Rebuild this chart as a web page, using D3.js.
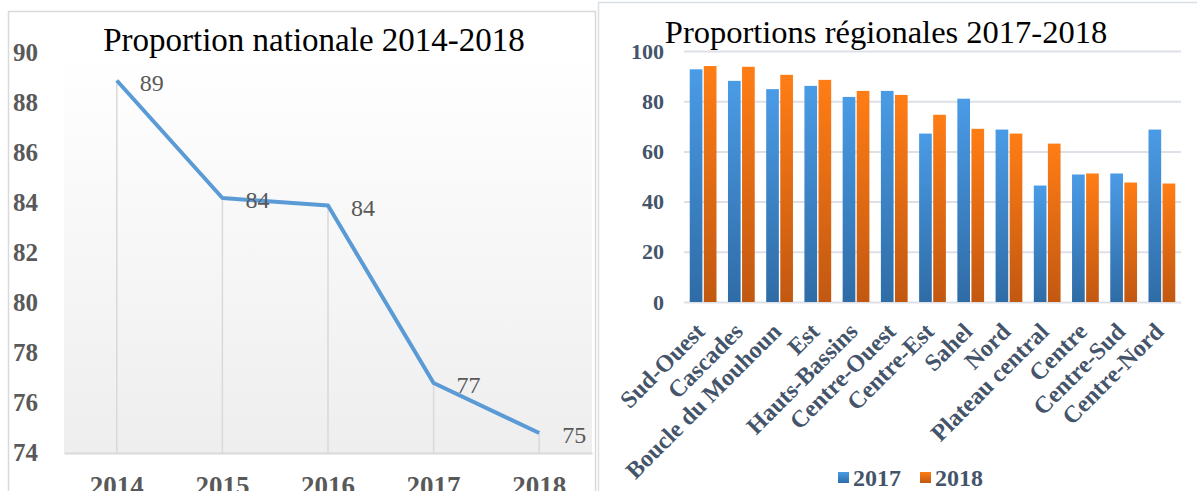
<!DOCTYPE html>
<html>
<head>
<meta charset="utf-8">
<script src="https://cdn.jsdelivr.net/npm/d3@7"></script>
<style>
  html, body { margin: 0; padding: 0; background: #fff; }
  svg { display: block; font-family: "Liberation Serif", "Times New Roman", serif; }
</style>
</head>
<body>
<svg id="chart" width="1197" height="491"></svg>
<script>
// Donnees
const years = ['2014', '2015', '2016', '2017', '2018'];
const nationalValues = [88.9, 84.2, 83.9, 76.8, 74.8];
const nationalLabels = ['89', '84', '84', '77', '75'];
const nationalTicks = [74, 76, 78, 80, 82, 84, 86, 88, 90];

const regions = ['Sud-Ouest', 'Cascades', 'Boucle du Mouhoun', 'Est', 'Hauts-Bassins',
  'Centre-Ouest', 'Centre-Est', 'Sahel', 'Nord', 'Plateau central', 'Centre', 'Centre-Sud', 'Centre-Nord'];
const values2017 = [92.7, 88.1, 84.8, 86.1, 81.7, 84.1, 67.1, 81.0, 68.7, 46.4, 50.8, 51.2, 68.7];
const values2018 = [94.0, 93.7, 90.5, 88.5, 84.1, 82.5, 74.6, 69.0, 67.1, 63.1, 51.2, 47.6, 47.2];
const seriesNames = ['2017', '2018'];
const regionalTicks = [0, 20, 40, 60, 80, 100];

const svg = d3.select('#chart');
const defs = svg.append('defs');
const serif = '"Liberation Serif", serif';

// degradés
const addGrad = (id, top, bottom) => {
  const g = defs.append('linearGradient')
    .attr('id', id).attr('x1', 0).attr('y1', 0).attr('x2', 0).attr('y2', 1);
  g.append('stop').attr('offset', '0%').attr('stop-color', top);
  g.append('stop').attr('offset', '100%').attr('stop-color', bottom);
};
addGrad('gradPlot', '#ffffff', '#eeeeee');
addGrad('grad2017', '#4a9be6', '#2f6ca6');
addGrad('grad2018', '#ff7d15', '#c25811');

// ---------- Graphique de gauche ----------
svg.append('rect')
  .attr('x', 8.5).attr('y', 11.5)
  .attr('width', 587).attr('height', 500)
  .attr('fill', '#fff')
  .attr('stroke', '#d9d9d9')
  .attr('stroke-width', 1.5);

const xL = d3.scaleBand().domain(years).range([64, 592]);
const yL = d3.scaleLinear().domain([74, 90]).range([453, 53]);

svg.append('rect')
  .attr('x', 64).attr('y', 53)
  .attr('width', 528).attr('height', 400)
  .attr('fill', 'url(#gradPlot)');

const cx = d => xL(d) + xL.bandwidth() / 2;

// lignes de rappel
svg.append('g').selectAll('line')
  .data(years)
  .join('line')
    .attr('x1', d => cx(d)).attr('x2', d => cx(d))
    .attr('y1', (d, i) => yL(nationalValues[i]))
    .attr('y2', yL(74))
    .attr('stroke', '#d9d9d9')
    .attr('stroke-width', 1.5);

const yAxisL = svg.append('g')
  .attr('transform', 'translate(40,0)')
  .call(d3.axisLeft(yL).tickValues(nationalTicks).tickSize(0).tickPadding(2));
yAxisL.select('.domain').remove();
yAxisL.selectAll('text')
  .attr('fill', '#595959')
  .attr('dy', '0.28em')
  .style('font-size', '25px')
  .style('font-weight', 'bold')
  .style('font-family', serif);

const xAxisL = svg.append('g')
  .attr('transform', `translate(0,${yL(74)})`)
  .call(d3.axisBottom(xL).tickSize(0).tickPadding(23));
xAxisL.select('.domain')
  .attr('stroke', '#d9d9d9')
  .attr('stroke-width', 2);
xAxisL.selectAll('text')
  .attr('fill', '#595959')
  .style('font-size', '27px')
  .style('font-weight', 'bold')
  .style('font-family', serif);

const lineGen = d3.line()
  .x((d, i) => cx(years[i]))
  .y(d => yL(d));

svg.append('path')
  .attr('d', lineGen(nationalValues))
  .attr('fill', 'none')
  .attr('stroke', '#5b9bd5')
  .attr('stroke-width', 4)
  .attr('stroke-linejoin', 'round');

svg.append('g').selectAll('text')
  .data(years)
  .join('text')
    .attr('x', d => cx(d) + 23)
    .attr('y', (d, i) => yL(nationalValues[i]) + 2)
    .attr('dy', '0.35em')
    .attr('fill', '#595959')
    .style('font-size', '24px')
    .text((d, i) => nationalLabels[i]);

svg.append('text')
  .attr('x', 314).attr('y', 51)
  .attr('text-anchor', 'middle')
  .attr('fill', '#000')
  .style('font-size', '33px')
  .text('Proportion nationale 2014-2018');

// ---------- Graphique de droite ----------
svg.append('line')
  .attr('x1', 598.5).attr('x2', 598.5).attr('y1', 2).attr('y2', 491)
  .attr('stroke', '#dae0e8').attr('stroke-width', 1.5);
svg.append('line')
  .attr('x1', 598).attr('x2', 1197).attr('y1', 2.5).attr('y2', 2.5)
  .attr('stroke', '#dae0e8').attr('stroke-width', 1.5);

const xR = d3.scaleBand().domain(regions).range([684, 1181])
  .paddingInner(0.3).paddingOuter(0.15);
const xSub = d3.scaleBand().domain(seriesNames).range([0, xR.bandwidth()]).paddingInner(0.1);
const yR = d3.scaleLinear().domain([0, 100]).range([302, 51]);

const yAxisR = svg.append('g')
  .attr('transform', 'translate(684,0)')
  .call(d3.axisLeft(yR).tickValues(regionalTicks).tickSize(-(1181 - 684)).tickPadding(20));
yAxisR.select('.domain').remove();
yAxisR.selectAll('line')
  .attr('stroke', '#dde1e7')
  .attr('stroke-width', 2);
yAxisR.selectAll('text')
  .attr('fill', '#44546a')
  .style('font-size', '22px')
  .style('font-weight', 'bold')
  .style('font-family', serif);

const groups = svg.append('g').selectAll('g')
  .data(regions)
  .join('g')
    .attr('transform', d => `translate(${xR(d)},0)`);

groups.append('rect')
  .attr('x', xSub('2017'))
  .attr('width', xSub.bandwidth())
  .attr('y', (d, i) => yR(values2017[i]))
  .attr('height', (d, i) => yR(0) - yR(values2017[i]))
  .attr('fill', 'url(#grad2017)');

groups.append('rect')
  .attr('x', xSub('2018'))
  .attr('width', xSub.bandwidth())
  .attr('y', (d, i) => yR(values2018[i]))
  .attr('height', (d, i) => yR(0) - yR(values2018[i]))
  .attr('fill', 'url(#grad2018)');

const xAxisR = svg.append('g')
  .attr('transform', `translate(0,${yR(0)})`)
  .call(d3.axisBottom(xR).tickSize(0).tickPadding(0));
xAxisR.select('.domain').remove();
xAxisR.selectAll('text')
  .attr('fill', '#44546a')
  .attr('y', 0).attr('dy', 0)
  .attr('text-anchor', 'end')
  .attr('transform', 'translate(3,31) rotate(-45)')
  .style('font-size', '24px')
  .style('font-weight', 'bold')
  .style('font-family', serif);

svg.append('text')
  .attr('x', 886).attr('y', 43)
  .attr('text-anchor', 'middle')
  .attr('fill', '#000')
  .style('font-size', '32.5px')
  .text('Proportions régionales 2017-2018');

// légende
const legend = svg.append('g').selectAll('g')
  .data(seriesNames)
  .join('g')
    .attr('transform', (d, i) => `translate(${838 + i * 82},472)`);
legend.append('rect')
  .attr('width', 11).attr('height', 11)
  .attr('fill', d => `url(#grad${d})`);
legend.append('text')
  .attr('x', 15).attr('y', 14)
  .attr('fill', '#44546a')
  .style('font-size', '24px')
  .style('font-weight', 'bold')
  .text(d => d);
</script>
</body>
</html>
